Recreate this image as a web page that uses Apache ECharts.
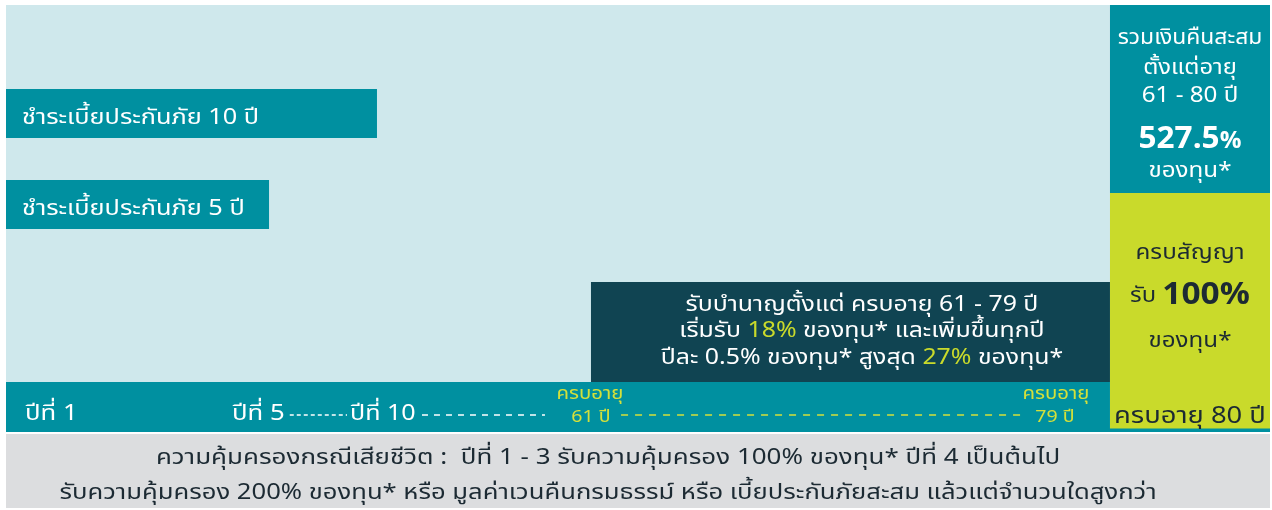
<!DOCTYPE html>
<html>
<head>
<meta charset="utf-8">
<script src="https://cdn.jsdelivr.net/npm/echarts@6/dist/echarts.min.js"></script>
<style>html,body{margin:0;padding:0;background:#fff}#c{width:1272px;height:510px}</style>
</head>
<body>
<div id="c"></div>
<script>
// ---------------- DATA ----------------
const payTerms = [10, 5];                       // premium payment terms (years)
const payEndPos = [29.35, 20.81];               // where each payment bar ends on the schematic timeline (0-100)
const annuityAges = [61, 79];                   // annuity paid from age .. to age
const maturityAge = 80;
const annuityStartPct = 18;
const annuityStepPct = 0.5;
const annuityMaxPct = 27;
const totalCashbackPct = 527.5;
const maturityPct = 100;
const deathCoverYears = [1, 3, 4];
const deathCoverPct = [100, 200];
const timelineTicks = ['ปีที่ 1', 'ปีที่ 5', 'ปีที่ 10'];

// ---------------- STYLE ----------------
const FONT = "'Noto Sans Thai','Noto Sans',sans-serif";
const C = {
  light: '#cfe8ec', teal: '#0090a0', dark: '#104452', lime: '#c9da2b',
  grey: '#dcdddf', text: '#1c2a33', yellow: '#d4e03a', white: '#ffffff'
};
const SX = 1.15; // horizontal stretch to mimic the wide display face
// layout panels in schematic units: x 0-100 across, y 0-100 down
const L = {
  xEnd: 87.34, darkX0: 46.28,
  bandY0: 74.95, bandY1: 84.49, darkY0: 55.07, limeY0: 37.38,
  footY0: 85.29, lineY0: 84.49, lineY1: 84.89,
  barY: [[16.70, 26.44], [34.79, 44.53]]
};

const chart = echarts.init(document.getElementById('c'), null, {renderer: 'canvas'});

function rect(api, x0, x1, y0, y1, color) {
  const p0 = api.coord([x0, y0]);
  const p1 = api.coord([x1, y1]);
  return {type: 'rect', shape: {x: p0[0], y: p0[1], width: p1[0] - p0[0], height: p1[1] - p0[1]}, style: {fill: color}};
}
function txtPx(px, py, text, opts, sx) {
  const st = Object.assign({x: 0, y: 0, text: text, fill: C.white, fontFamily: FONT, fontSize: 22, align: 'left', verticalAlign: 'middle'}, opts || {});
  const dy = 0.22 * st.fontSize; // visual-centre correction for Thai face
  return {type: 'text', x: px, y: py + dy, scaleX: sx || SX, scaleY: 1, style: st};
}
function txt(api, x, y, text, opts, sx) {
  const p = api.coord([x, y]);
  return txtPx(p[0], p[1], text, opts, sx);
}
function dash(api, x0, x1, y, color, d) {
  const a = api.coord([x0, y]), b = api.coord([x1, y]);
  return {type: 'line', shape: {x1: a[0], y1: a[1], x2: b[0], y2: b[1]}, style: {stroke: color, lineWidth: 1.4, lineDash: d}};
}

const panelsSeries = {
  type: 'custom', coordinateSystem: 'cartesian2d', silent: true,
  data: [[0]],
  renderItem: function (params, api) {
    const els = [];
    els.push(rect(api, 0, L.xEnd, 0, L.bandY0, C.light));
    // dark annuity box
    els.push(rect(api, L.darkX0, L.xEnd, L.darkY0, L.bandY0, C.dark));
    els.push(txt(api, 67.72, 64.21,
      '{w|รับบำนาญตั้งแต่ ครบอายุ ' + annuityAges[0] + ' - ' + annuityAges[1] + ' ปี}\n' +
      '{w|เริ่มรับ }{y|' + annuityStartPct + '%}{w| ของทุน* และเพิ่มขึ้นทุกปี}\n' +
      '{w|ปีละ ' + annuityStepPct + '% ของทุน* สูงสุด }{y|' + annuityMaxPct + '%}{w| ของทุน*}',
      {align: 'center', rich: {w: {fill: C.white, fontFamily: FONT, fontSize: 22, lineHeight: 26.5},
                               y: {fill: C.lime, fontFamily: FONT, fontSize: 22, lineHeight: 26.5}}}, 1.13));
    // timeline band
    els.push(rect(api, 0, L.xEnd, L.bandY0, L.bandY1, C.teal));
    // right column: cumulative cashback
    els.push(rect(api, L.xEnd, 100, 0, L.limeY0, C.teal));
    els.push(txt(api, 93.67, 5.96, 'รวมเงินคืนสะสม', {align: 'center', fontSize: 22}, 1.04));
    els.push(txt(api, 93.67, 11.93, 'ตั้งแต่อายุ', {align: 'center', fontSize: 22}, 1.08));
    els.push(txt(api, 93.67, 17.50, annuityAges[0] + ' - ' + maturityAge + ' ปี', {align: 'center', fontSize: 22}, 1.1));
    els.push(txt(api, 93.67, 26.24, '{b|' + totalCashbackPct + '}{p|%}', {align: 'center',
      rich: {b: {fill: C.white, fontFamily: FONT, fontSize: 30, fontWeight: 'bold'},
             p: {fill: C.white, fontFamily: FONT, fontSize: 23, fontWeight: 'bold', padding: [3, 0, 0, 0]}}}, 1.05));
    els.push(txt(api, 93.67, 32.41, 'ของทุน*', {align: 'center', fontSize: 22}, 1.1));
    // maturity column
    els.push(rect(api, L.xEnd, 100, L.limeY0, L.bandY1, C.lime));
    els.push(rect(api, 0, 100, L.lineY0 - 0.3, L.lineY1, C.teal));
    els.push(txt(api, 93.67, 48.71, 'ครบสัญญา', {align: 'center', fill: C.text, fontSize: 22}, 1.1));
    els.push(txt(api, 93.67, 57.26, '{a|รับ }{b|' + maturityPct + '%}', {align: 'center',
      rich: {a: {fill: C.text, fontFamily: FONT, fontSize: 22},
             b: {fill: C.text, fontFamily: FONT, fontSize: 31, fontWeight: 'bold'}}}, 1.08));
    els.push(txt(api, 93.67, 66.20, 'ของทุน*', {align: 'center', fill: C.text, fontSize: 22}, 1.1));
    els.push(txt(api, 93.67, 81.11, 'ครบอายุ ' + maturityAge + ' ปี', {align: 'center', fill: C.text, fontSize: 23}, 1.19));
    // footer
    els.push(rect(api, 0, 100, L.footY0, 100, C.grey));
    els.push(txt(api, 47.63, 89.46,
      'ความคุ้มครองกรณีเสียชีวิต :  ปีที่ ' + deathCoverYears[0] + ' - ' + deathCoverYears[1] + ' รับความคุ้มครอง ' + deathCoverPct[0] + '% ของทุน* ปีที่ ' + deathCoverYears[2] + ' เป็นต้นไป',
      {align: 'center', fill: C.text, fontSize: 22}, 1.18));
    els.push(txt(api, 47.63, 96.42,
      'รับความคุ้มครอง ' + deathCoverPct[1] + '% ของทุน* หรือ มูลค่าเวนคืนกรมธรรม์ หรือ เบี้ยประกันภัยสะสม แล้วแต่จำนวนใดสูงกว่า',
      {align: 'center', fill: C.text, fontSize: 22}, 1.165));
    // timeline labels
    els.push(txt(api, 1.50, 80.72, timelineTicks[0], {fontSize: 22}, 1.17));
    els.push(txt(api, 17.88, 80.72, timelineTicks[1], {fontSize: 22}, 1.17));
    els.push(dash(api, 22.45, 26.98, 81.5, C.white, [4, 3]));
    els.push(txt(api, 27.22, 80.72, timelineTicks[2], {fontSize: 22}, 1.14));
    els.push(dash(api, 32.91, 42.64, 81.5, C.white, [6, 6]));
    els.push(txt(api, 46.20, 76.94, 'ครบอายุ', {align: 'center', fill: C.yellow, fontSize: 17}, 1.2));
    els.push(txt(api, 46.28, 81.51, annuityAges[0] + ' ปี', {align: 'center', fill: C.yellow, fontSize: 17}, 1.15));
    els.push(dash(api, 48.66, 80.38, 81.5, C.yellow, [7, 7]));
    els.push(txt(api, 83.07, 76.94, 'ครบอายุ', {align: 'center', fill: C.yellow, fontSize: 17}, 1.2));
    els.push(txt(api, 82.99, 81.51, annuityAges[1] + ' ปี', {align: 'center', fill: C.yellow, fontSize: 17}, 1.15));
    return {type: 'group', children: els};
  }
};

const barsSeries = {
  type: 'custom', coordinateSystem: 'cartesian2d', silent: true,
  data: payTerms.map((t, i) => [0, payEndPos[i], i]),
  renderItem: function (params, api) {
    const i = api.value(2);
    const yy = L.barY[i];
    const r = rect(api, api.value(0), api.value(1), yy[0], yy[1], C.teal);
    const t = txtPx(r.shape.x + 16, r.shape.y + r.shape.height / 2 + 1, 'ชำระเบี้ยประกันภัย ' + payTerms[i] + ' ปี', {fontSize: 22}, 1.15);
    return {type: 'group', children: [r, t]};
  }
};

chart.setOption({
  animation: false,
  backgroundColor: '#ffffff',
  grid: {left: 6, right: 2, top: 5, bottom: 2},
  xAxis: {type: 'value', min: 0, max: 100, show: false},
  yAxis: {type: 'value', min: 0, max: 100, inverse: true, show: false},
  series: [panelsSeries, barsSeries]
});
</script>
</body>
</html>
